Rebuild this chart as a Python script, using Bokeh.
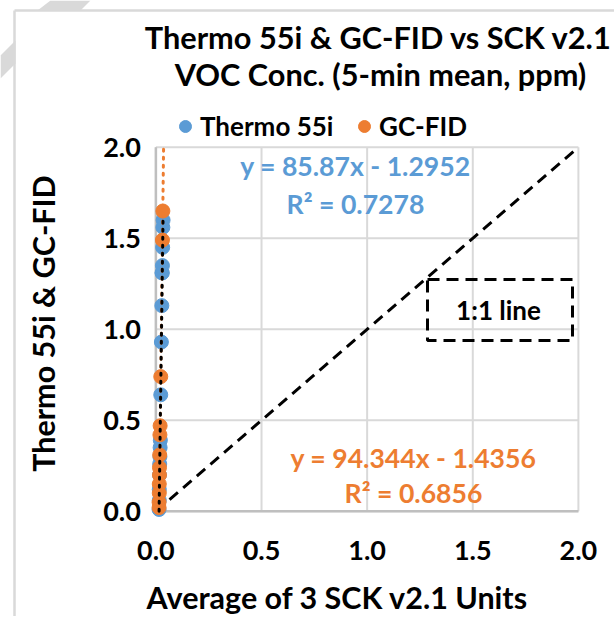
import math
from bokeh.plotting import figure
from bokeh.models import (Range1d, FixedTicker, NumeralTickFormatter, Label, Legend,
                          LegendItem)
from bokeh.embed import file_html
from bokeh.resources import INLINE

# ---------------- data ----------------
title_lines = ["Thermo 55i & GC-FID vs SCK v2.1", "VOC Conc. (5-min mean, ppm)"]
x_title = "Average of 3 SCK v2.1 Units"
y_title = "Thermo 55i & GC-FID"
series_names = ["Thermo 55i", "GC-FID"]
tick_values = [0.0, 0.5, 1.0, 1.5, 2.0]

thermo_x = [0.034, 0.033, 0.032, 0.031, 0.030, 0.029, 0.028, 0.026, 0.023,
            0.021, 0.020, 0.019, 0.018, 0.017, 0.016, 0.016, 0.015]
thermo_y = [1.60, 1.56, 1.45, 1.35, 1.31, 1.31, 1.13, 0.93, 0.64,
            0.39, 0.35, 0.30, 0.26, 0.20, 0.12, 0.06, 0.01]

gcfid_x = [0.033, 0.031, 0.023, 0.020, 0.019, 0.018, 0.017, 0.017, 0.016,
           0.016, 0.015, 0.015]
gcfid_y = [1.65, 1.49, 0.74, 0.47, 0.42, 0.31, 0.24, 0.20, 0.15,
           0.10, 0.05, 0.02]

thermo_fit = [85.87, -1.2952]   # slope, intercept
thermo_r2 = 0.7278
gcfid_fit = [94.344, -1.4356]
gcfid_r2 = 0.6856
thermo_fit_yspan = [0.0, 1.60]
gcfid_fit_yspan = [0.0, 2.0]

one_to_one = [0.0, 2.0]

# ---------------- style ----------------
BLUE = "#5B9BD5"
ORANGE = "#ED7D31"
GRID = "#D9D9D9"
AXIS = "#BFBFBF"
FONT = "Lato"
W, H = 614, 616

# page-pixel -> data helpers (layout only)
X0, XS = 155.4, 211.25
Y0, YS = 510.8, 182.0
def dx(px):
    return (px - X0) / XS
def dy(py):
    return (Y0 - py) / YS

# the frame fills the whole canvas; axes sit at x=0 / y=0 through fixed_location
p = figure(output_backend="svg", toolbar_location=None,
           x_range=Range1d(dx(0), dx(W)), y_range=Range1d(dy(H), dy(0)),
           frame_width=W, frame_height=H,
           min_border_left=0, min_border_right=0,
           min_border_top=0, min_border_bottom=0,
           background_fill_color="white", border_fill_color="white",
           outline_line_color=None)

lo, hi = tick_values[0], tick_values[-1]
for ax in (p.xaxis[0], p.yaxis[0]):
    ax.ticker = FixedTicker(ticks=tick_values)
    ax.bounds = (lo, hi)
    ax.fixed_location = lo
    ax.formatter = NumeralTickFormatter(format="0.0")
    ax.axis_line_color = None
    ax.major_tick_line_color = None
    ax.minor_tick_line_color = None
    ax.major_tick_out = 0
    ax.major_tick_in = 0
    ax.minor_tick_out = 0
    ax.minor_tick_in = 0
    ax.major_label_text_font = FONT
    ax.major_label_text_font_style = "bold"
    ax.major_label_text_font_size = "27px"
    ax.major_label_text_color = "#000000"
p.xaxis.major_label_standoff = 30
p.yaxis.major_label_standoff = 15
p.grid.visible = False

# chart-area border and background stripes of the slide
p.patch([dx(0), dx(15), dx(15), dx(0)], [dy(55), dy(40), dy(63), dy(78)],
        fill_color=GRID, line_color=None)
p.patch([dx(50), dx(90), dx(80), dx(37)], [dy(0), dy(0), dy(10), dy(10)],
        fill_color=GRID, line_color=None)
p.segment(x0=[dx(14), dx(14)], y0=[dy(10), dy(10)], x1=[dx(14), dx(W)], y1=[dy(H), dy(10)],
          line_color=GRID, line_width=2.5)

# gridlines limited to the 0..2 plotting square
n = len(tick_values)
p.segment(x0=tick_values, y0=[lo] * n, x1=tick_values, y1=[hi] * n,
          line_color=GRID, line_width=2)
p.segment(x0=[lo] * n, y0=tick_values, x1=[hi] * n, y1=tick_values,
          line_color=GRID, line_width=2)

# axis lines at zero
p.segment(x0=[lo, lo], y0=[lo, lo], x1=[lo, hi], y1=[hi, lo], line_color=AXIS, line_width=2.5)

# 1:1 line
p.line(one_to_one, one_to_one, line_color="black", line_width=3, line_dash="11 7")

# scatter
r_blue = p.scatter(thermo_x, thermo_y, size=14, fill_color=BLUE, line_color=BLUE)
r_orange = p.scatter(gcfid_x, gcfid_y, size=14, fill_color=ORANGE, line_color=ORANGE)

# trendlines
tx = [(yv - thermo_fit[1]) / thermo_fit[0] for yv in thermo_fit_yspan]
gx = [(yv - gcfid_fit[1]) / gcfid_fit[0] for yv in gcfid_fit_yspan]
p.line(gx, gcfid_fit_yspan, line_color=ORANGE, line_width=3, line_dash="2 6", line_cap="round")
p.line(tx, thermo_fit_yspan, line_color="black", line_width=3, line_dash="2 6", line_cap="round")

# 1:1 box
p.quad(left=[dx(427)], right=[dx(572)], top=[dy(279)], bottom=[dy(340)],
       fill_color=None, line_color="black", line_width=3, line_dash="12 7")

def add_text(txt, px, py, size, color="#000000", angle=0.0):
    p.add_layout(Label(x=dx(px), y=dy(py), text=txt, angle=angle,
                       text_align="center", text_baseline="middle",
                       text_font=FONT, text_font_style="bold",
                       text_font_size=size, text_color=color))

add_text("1:1 line", 498, 309, "26px")

# equations
def eq_text(fit):
    return f"y = {fit[0]}x - {abs(fit[1])}"

add_text(eq_text(thermo_fit), 355, 165, "26.6px", BLUE)
add_text(f"R² = {thermo_r2}", 355, 203, "26.6px", BLUE)
add_text(eq_text(gcfid_fit), 413, 457, "26.6px", ORANGE)
add_text(f"R² = {gcfid_r2}", 413, 492, "26.6px", ORANGE)

# titles
add_text(title_lines[0], 378, 37, "30.7px")
add_text(title_lines[1], 380, 74, "30.7px")
add_text(x_title, 337, 596, "30.5px")
add_text(y_title, 42, 323, "30.5px", angle=math.pi / 2)

# legend
legend = Legend(items=[LegendItem(label=series_names[0], renderers=[r_blue]),
                       LegendItem(label=series_names[1], renderers=[r_orange])],
                orientation="horizontal", location=(170, H - 142),
                glyph_width=30, glyph_height=30, label_standoff=0, spacing=0,
                label_width=149,
                padding=0, margin=0, border_line_color=None,
                background_fill_alpha=0,
                label_text_font=FONT, label_text_font_style="bold",
                label_text_font_size="26px", label_text_color="#000000")
p.add_layout(legend, "center")

open("out.html", "w").write(file_html(p, INLINE))
